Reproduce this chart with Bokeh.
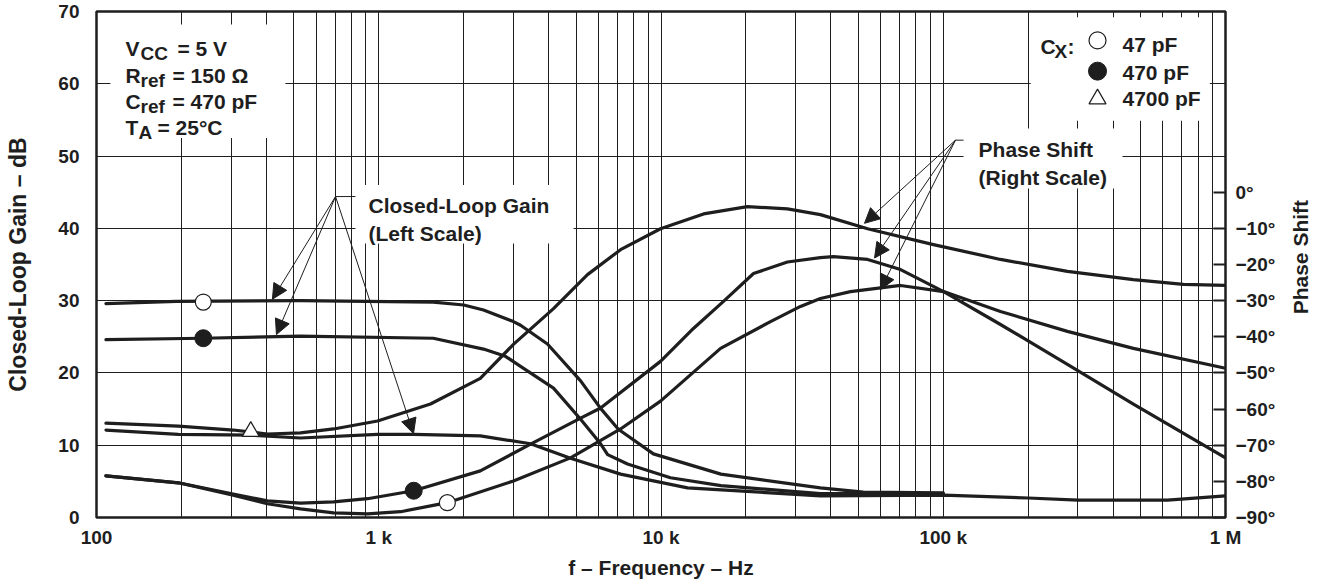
import math
from bokeh.plotting import figure
from bokeh.layouts import row
from bokeh.models import Range1d, LinearAxis, FixedTicker, Label, Arrow, NormalHead
from bokeh.embed import file_html
from bokeh.resources import INLINE

# ---------------- data ----------------
# Closed-loop gain (left scale, dB)
freq_gain_47 = [108, 192, 528, 1560, 2000, 2350, 3000, 3180, 3960, 5190, 6110, 7060, 9400, 16300, 36700, 52100, 100000]
gain_47 = [29.6, 29.9, 30.0, 29.8, 29.4, 28.7, 27.1, 26.6, 24.0, 18.9, 15.1, 12.2, 8.8, 6.0, 4.1, 3.5, 3.4]

freq_gain_470 = [108, 239, 528, 1560, 2350, 2810, 3180, 4160, 5190, 6110, 6470, 7610, 10800, 16300, 36700, 100000]
gain_470 = [24.6, 24.8, 25.1, 24.8, 23.3, 22.3, 20.9, 17.9, 13.6, 10.2, 8.7, 7.4, 5.5, 4.4, 3.3, 3.3]

freq_gain_4700 = [108, 195, 352, 528, 990, 1330, 2290, 3450, 4780, 7190, 12420, 36700, 100000, 200000, 300000, 623000, 1000000]
gain_4700 = [12.1, 11.5, 11.4, 11.0, 11.5, 11.5, 11.3, 10.2, 8.2, 6.0, 4.1, 3.0, 3.1, 2.7, 2.4, 2.4, 3.0]

# Phase shift (right scale, degrees)
freq_phase_a = [108, 195, 305, 403, 528, 692, 990, 1525, 2290, 3000, 4160, 5490, 7190, 9960, 14150, 20240, 28050, 36700, 53950, 92300, 159500, 275400, 471700, 709600, 1000000]
phase_a = [-63.9, -64.7, -65.8, -66.9, -66.6, -65.5, -63.3, -58.6, -51.5, -42.1, -32.2, -22.8, -15.9, -10.1, -6.0, -4.0, -4.6, -6.2, -10.1, -14.5, -18.6, -21.9, -24.2, -25.5, -25.8]

freq_phase_b = [108, 195, 305, 403, 528, 692, 912, 1330, 2290, 3450, 5190, 6110, 9960, 13030, 16650, 21270, 28050, 36700, 40800, 53950, 70600, 100300, 159500, 275400, 471700, 1000000]
phase_b = [-78.5, -80.4, -83.5, -85.4, -86.0, -85.7, -84.8, -82.6, -77.1, -69.7, -62.5, -59.7, -46.8, -37.7, -30.2, -22.5, -19.3, -18.1, -17.8, -18.6, -21.4, -27.5, -36.6, -47.6, -58.6, -73.5]

freq_phase_c = [108, 195, 305, 403, 528, 692, 912, 1195, 1750, 3000, 4780, 7190, 9960, 16260, 24430, 31200, 36700, 46900, 70600, 100300, 159500, 275400, 471700, 1000000]
phase_c = [-78.5, -80.4, -83.8, -86.2, -87.6, -88.7, -89.0, -88.4, -85.9, -79.9, -73.5, -65.5, -57.8, -43.2, -35.8, -31.6, -29.4, -27.5, -25.8, -27.5, -33.0, -38.5, -43.2, -48.7]

# curve markers
marker_gain_freq = [239, 239, 352]
marker_gain_val = [29.8, 24.8, 11.9]
marker_phase_freq = [1330, 1750]
marker_phase_val = [-82.6, -85.9]

# axes
x_major = [100, 1000, 10000, 100000, 1000000]
x_minor = [m * d for d in (100, 1000, 10000, 100000) for m in range(2, 10)]
x_labels = ["100", "1 k", "10 k", "100 k", "1 M"]
y_gain_ticks = [0, 10, 20, 30, 40, 50, 60, 70]
y_phase_ticks = [-90, -80, -70, -60, -50, -40, -30, -20, -10, 0]
y_phase_labels = ["−90°", "−80°", "−70°", "−60°", "−50°", "−40°", "−30°", "−20°", "−10°", "0°"]

legend_labels = ["47 pF", "470 pF", "4700 pF"]

# ---------------- styling ----------------
FONT = "Liberation Sans"
INK = "#1e1e1e"
TICK_FS = "19px"
ANN_FS = "21px"
SUB_FS = "19px"

MAIN_W = 1282
SIDE_W = 40
H = 585

p = figure(width=MAIN_W, height=H, x_axis_type="log",
           x_range=Range1d(100, 1e6), y_range=Range1d(0, 70),
           output_backend="svg", toolbar_location=None,
           min_border_left=96, min_border_right=MAIN_W - 1225, min_border_top=11, min_border_bottom=68)
p.extra_y_ranges = {"phase": Range1d(-90, 50)}

p.outline_line_color = INK
p.outline_line_width = 2.5
p.background_fill_color = "white"

# grids
p.xgrid.ticker = FixedTicker(ticks=x_major, minor_ticks=x_minor)
p.xgrid.grid_line_color = INK
p.xgrid.grid_line_width = 1
p.xgrid.minor_grid_line_color = INK
p.xgrid.minor_grid_line_width = 1
p.ygrid.ticker = FixedTicker(ticks=y_gain_ticks)
p.ygrid.grid_line_color = INK
p.ygrid.grid_line_width = 1

# x axis
xa = p.xaxis[0]
xa.ticker = FixedTicker(ticks=x_major)
xa.major_label_overrides = {v: s for v, s in zip(x_major, x_labels)}
xa.major_tick_line_color = None
xa.minor_tick_line_color = None
xa.axis_line_color = None
xa.major_label_standoff = 3
xa.axis_label = "f – Frequency – Hz"
xa.axis_label_standoff = 5

# left axis
ya = p.yaxis[0]
ya.ticker = FixedTicker(ticks=y_gain_ticks)
ya.major_tick_line_color = None
ya.minor_tick_line_color = None
ya.axis_line_color = None
ya.major_label_standoff = 11
ya.axis_label = "Closed-Loop Gain – dB"
ya.axis_label_standoff = 24

# right axis (ticks + labels; its title is drawn in the narrow side panel)
ra = LinearAxis(y_range_name="phase")
ra.ticker = FixedTicker(ticks=y_phase_ticks)
ra.major_label_overrides = {v: s for v, s in zip(y_phase_ticks, y_phase_labels)}
ra.major_tick_in = 12
ra.major_tick_out = 0
ra.major_tick_line_color = INK
ra.major_tick_line_width = 2
ra.minor_tick_line_color = None
ra.axis_line_color = None
ra.major_label_standoff = 10
p.add_layout(ra, "right")

for ax in (xa, ya, ra):
    ax.major_label_text_font = FONT
    ax.major_label_text_font_style = "bold"
    ax.major_label_text_font_size = TICK_FS
    ax.major_label_text_color = INK
    ax.axis_label_text_font = FONT
    ax.axis_label_text_font_style = "bold"
    ax.axis_label_text_font_size = ANN_FS
    ax.axis_label_text_color = INK
ya.axis_label_text_font_size = "23px"

# white boxes behind annotations (hide grid lines)
p.quad(left=[112, 204000, 118000, 827], right=[467, 880000, 431500, 4900],
       bottom=[52.5, 54.9, 45.5, 37.9], top=[68.2, 69.2, 53.8, 46.0],
       fill_color="white", line_color=None)

# curves
LW = 3.2
for fx, fy, rng in ((freq_gain_47, gain_47, None), (freq_gain_470, gain_470, None),
                    (freq_gain_4700, gain_4700, None), (freq_phase_a, phase_a, "phase"),
                    (freq_phase_b, phase_b, "phase"), (freq_phase_c, phase_c, "phase")):
    kw = {"y_range_name": rng} if rng else {}
    p.line(fx, fy, line_color=INK, line_width=LW, line_join="round", line_cap="round", **kw)

# markers on curves
p.scatter(marker_gain_freq[0:1], marker_gain_val[0:1], marker="circle", size=16,
          fill_color="white", line_color=INK, line_width=1.2)
p.scatter(marker_gain_freq[1:2], marker_gain_val[1:2], marker="circle", size=17,
          fill_color=INK, line_color=INK)
p.scatter(marker_gain_freq[2:3], marker_gain_val[2:3], marker="triangle", size=17,
          fill_color="white", line_color=INK, line_width=1.2)
p.scatter(marker_phase_freq[0:1], marker_phase_val[0:1], marker="circle", size=17,
          fill_color=INK, line_color=INK, y_range_name="phase")
p.scatter(marker_phase_freq[1:2], marker_phase_val[1:2], marker="circle", size=16,
          fill_color="white", line_color=INK, line_width=1.2, y_range_name="phase")

# legend (Cx)
leg_x = 352000
p.scatter([leg_x], [66.0], marker="circle", size=17, fill_color="white", line_color=INK, line_width=1.2)
p.scatter([leg_x], [61.75], marker="circle", size=18, fill_color=INK, line_color=INK)
p.scatter([leg_x], [57.9], marker="triangle", size=17, fill_color="white", line_color=INK, line_width=1.2)


def txt(fig, x, y, s, size=ANN_FS, dx=0, dy=0, angle=0.0, align="left", baseline="alphabetic"):
    fig.add_layout(Label(x=x, y=y, text=s, x_offset=dx, y_offset=dy, angle=angle,
                         text_font=FONT, text_font_style="bold", text_font_size=size,
                         text_color=INK, text_align=align, text_baseline=baseline))


for lab, yv in zip(legend_labels, [65.4, 61.6, 57.9]):
    txt(p, 431500, yv, lab)
txt(p, 221100, 65.2, "C")
txt(p, 221100, 65.2, "X", size=SUB_FS, dx=14, dy=-5)
txt(p, 221100, 65.2, ":", dx=27)

# conditions block
cx = 126.7
txt(p, cx, 64.9, "V"); txt(p, cx, 64.9, "CC", size=SUB_FS, dx=15, dy=-5); txt(p, cx, 64.9, "= 5 V", dx=52)
txt(p, cx, 61.2, "R"); txt(p, cx, 61.2, "ref", size=SUB_FS, dx=15, dy=-5); txt(p, cx, 61.2, "= 150 Ω", dx=47)
txt(p, cx, 57.5, "C"); txt(p, cx, 57.5, "ref", size=SUB_FS, dx=15, dy=-5); txt(p, cx, 57.5, "= 470 pF", dx=47)
txt(p, cx, 53.9, "T"); txt(p, cx, 53.9, "A", size=SUB_FS, dx=13, dy=-5); txt(p, cx, 53.9, "= 25°C", dx=32)

# callouts
txt(p, 919.8, 43.1, "Closed-Loop Gain")
txt(p, 919.8, 39.3, "(Left Scale)")
txt(p, 133400, 50.95, "Phase Shift")
txt(p, 133400, 47.1, "(Right Scale)")


def arrow(x0, y0, x1, y1, head=True):
    p.add_layout(Arrow(x_start=x0, y_start=y0, x_end=x1, y_end=y1,
                       line_color=INK, line_width=1,
                       end=NormalHead(size=15, fill_color=INK, line_color=INK, line_width=1) if head else None))


arrow(703, 44.4, 827, 44.4, head=False)
arrow(703, 44.4, 420, 30.2)
arrow(703, 44.4, 434, 25.3)
arrow(703, 44.4, 1328, 11.6)
arrow(110500, 52.2, 118000, 52.2, head=False)
arrow(110500, 52.2, 52600, 40.7)
arrow(110500, 52.2, 57100, 35.9)
arrow(110500, 52.2, 59900, 31.5)

# narrow side panel carrying the right-axis title (reads bottom to top)
side = figure(width=SIDE_W, height=H, x_range=Range1d(0, SIDE_W), y_range=Range1d(0, H),
              output_backend="svg", toolbar_location=None,
              x_axis_location=None, y_axis_location=None,
              min_border_left=0, min_border_right=0, min_border_top=0, min_border_bottom=0)
side.grid.visible = False
side.outline_line_color = None
txt(side, 18, H - 284, "Phase Shift", angle=math.pi / 2, align="center", baseline="middle")

layout = row(p, side)
open("out.html", "w").write(file_html(layout, INLINE))
